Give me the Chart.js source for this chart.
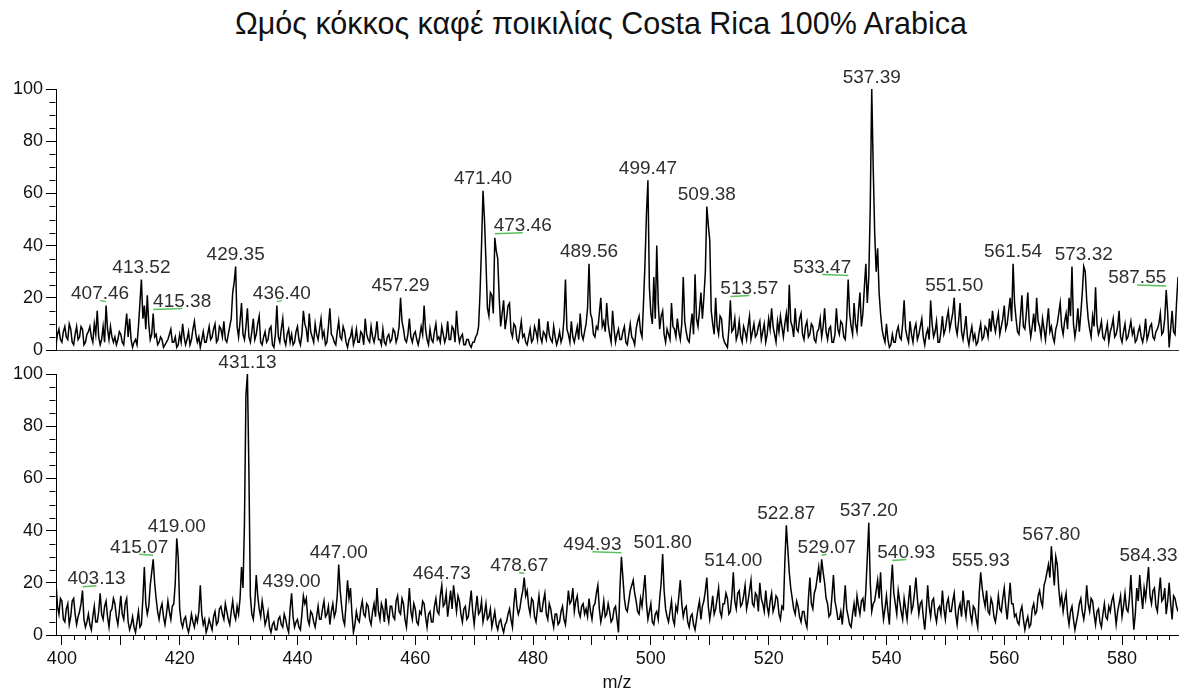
<!DOCTYPE html>
<html>
<head>
<meta charset="utf-8">
<title>Ωμός κόκκος καφέ ποικιλίας Costa Rica 100% Arabica</title>
<script src="https://cdn.jsdelivr.net/npm/chart.js@4.4.1/dist/chart.umd.min.js"></script>
<style>
  body { margin: 0; background: #fff; }
  #wrap { position: relative; width: 1183px; height: 695px; }
  #title {
    position: absolute; top: 8px; left: 0; width: 1202px; text-align: center;
    font: 30.5px "Liberation Sans", Arial, sans-serif; line-height: 30px; color: #111;
  }
  canvas { position: absolute; left: 0; }
  #top-chart { top: 0; z-index: 2; }
  #bottom-chart { top: 345px; z-index: 1; }
</style>
</head>
<body>
<div id="wrap">
  <div id="title">Ωμός κόκκος καφέ ποικιλίας Costa Rica 100% Arabica</div>
  <canvas id="bottom-chart" width="1183" height="350"></canvas>
  <canvas id="top-chart" width="1183" height="362"></canvas>
</div>
<script>
// m/z grid: one reading every 0.25 from 399.00 to 589.50
const mzStart = 399;
const mzStep = 0.25;

// relative intensity (%) of the upper spectrum, one row = 10 m/z
const topIntensity = [
  2,6, 8,4, 3,7, 9,5, 4,10, 8,3, 2,6, 9,4, 5,9, 8,2, 3,6, 7,9, 5,3, 10,6, 15,5, 2,4, 9,3, 17,8, 4,9, 5,3,
  5,2, 4,7, 6,3, 2,8, 14,5, 12,4, 1,3, 4,2, 9,18, 27,12, 17,8, 21,10, 4,6, 14,5, 6,2, 3,5, 4,1, 2,3, 4,6, 8,3,
  3,5, 1,2, 6,3, 10,5, 2,4, 7,2, 4,8, 11,6, 3,5, 1,4, 7,3, 3,6, 9,4, 5,8, 10,3, 4,9, 8,5, 11,4, 3,6, 9,12,
  22,26, 32,9, 5,11, 18,6, 4,9, 16,5, 3,7, 12,4, 6,10, 13,3, 2,5, 7,3, 4,8, 9,2, 1,6, 17,5, 3,8, 12,4, 2,6, 8,3,
  6,2, 3,7, 9,4, 2,6, 15,10, 8,3, 14,7, 5,3, 10,6, 4,8, 12,5, 7,2, 3,9, 16,6, 5,3, 2,7, 11,5, 4,9, 7,3, 1,4,
  5,8, 2,4, 8,3, 3,7, 6,2, 12,6, 4,3, 9,5, 3,6, 11,4, 4,2, 8,3, 2,5, 6,3, 4,8, 7,3, 5,9, 20,11, 8,4, 3,6,
  12,5, 3,6, 7,4, 2,5, 9,6, 17,8, 4,2, 8,4, 3,7, 10,4, 5,3, 9,6, 3,5, 11,4, 4,9, 8,3, 15,7, 3,5, 6,2, 2,4,
  4,2, 1,3, 3,5, 6,9, 22,40, 61,50, 34,16, 13,22, 21,14, 43,38, 35,20, 9,14, 19,8, 12,17, 18,7, 5,10, 9,4, 3,7, 11,5, 6,3,
  2,5, 8,3, 4,9, 7,4, 12,5, 3,7, 6,4, 11,6, 4,3, 9,5, 2,4, 7,3, 5,12, 27,8, 6,3, 11,5, 3,6, 9,4, 14,6, 4,7,
  10,16, 33,14, 12,6, 5,9, 8,14, 20,9, 11,7, 18,10, 6,3, 15,8, 3,6, 8,4, 4,7, 9,3, 2,6, 10,5, 4,2, 8,11, 13,7, 5,18,
  33,52, 65,24, 14,10, 28,12, 40,18, 8,13, 15,6, 3,8, 6,4, 18,9, 8,5, 12,7, 4,10, 28,11, 7,4, 3,9, 14,6, 29,12, 9,15, 22,12,
  20,30, 55,48, 42,15, 10,6, 20,9, 6,13, 12,5, 3,2, 1,8, 19,7, 8,12, 4,6, 11,5, 3,9, 7,4, 9,13, 4,7, 10,5, 6,9, 11,4,
  7,10, 3,6, 12,8, 16,9, 6,3, 11,7, 13,9, 5,10, 14,7, 25,11, 9,5, 16,8, 7,12, 14,6, 4,9, 11,5, 6,10, 9,4, 3,7, 8,12,
  5,9, 16,7, 4,8, 9,3, 3,6, 16,8, 6,11, 10,5, 4,12, 27,14, 9,6, 18,10, 7,15, 22,9, 14,24, 33,18, 28,55, 100,70, 45,30, 39,22,
  14,8, 5,3, 10,4, 1,2, 6,3, 3,7, 9,5, 4,10, 19,8, 5,3, 11,6, 3,8, 10,4, 6,9, 12,5, 2,6, 8,4, 19,10, 5,7, 11,3,
  3,7, 13,6, 8,12, 15,8, 11,14, 20,9, 6,11, 18,7, 4,8, 13,5, 2,6, 9,4, 6,2, 3,7, 10,4, 5,9, 8,5, 12,7, 15,10, 7,11,
  14,6, 9,12, 17,8, 10,15, 20,11, 33,18, 12,7, 6,13, 21,9, 8,14, 22,10, 5,9, 14,7, 20,11, 9,5, 12,8, 4,10, 16,7, 9,5, 3,8,
  10,14, 18,9, 6,11, 14,8, 20,13, 32,10, 5,9, 16,7, 14,22, 32,30, 19,12, 8,5, 13,9, 24,10, 6,8, 11,5, 4,7, 10,3, 7,9, 12,5,
  6,9, 15,5, 3,7, 10,4, 5,8, 11,6, 8,3, 4,7, 9,5, 3,6, 12,4, 6,9, 10,5, 4,7, 8,10, 14,6, 7,12, 23,14, 1,8, 15,7,
  6, 18, 28
];

// relative intensity (%) of the lower spectrum, one row = 10 m/z
const bottomIntensity = [
  20,11, 8,14, 13,6, 5,10, 12,4, 7,13, 14,8, 4,7, 9,12, 17,6, 3,5, 8,4, 2,7, 11,5, 5,9, 16,8, 6,11, 13,7, 3,9, 10,14,
  12,7, 4,9, 15,8, 6,12, 14,5, 2,4, 7,3, 1,5, 9,3, 4,14, 26,12, 8,11, 19,24, 29,20, 14,9, 6,10, 12,7, 4,8, 13,9, 6,11,
  12,20, 37,30, 10,5, 3,6, 7,3, 1,4, 8,5, 3,7, 5,9, 19,8, 4,6, 1,3, 6,4, 2,7, 9,4, 5,10, 11,8, 6,12, 9,6, 4,9,
  13,8, 6,11, 8,14, 26,18, 43,92, 100,63, 15,8, 6,12, 23,15, 10,7, 13,9, 4,6, 9,3, 1,4, 5,2, 2,6, 7,4, 3,8, 6,3, 1,10,
  16,7, 3,5, 6,3, 2,8, 15,12, 14,6, 4,9, 8,5, 3,7, 11,6, 6,10, 13,7, 8,11, 4,9, 12,7, 9,15, 27,17, 11,6, 4,12, 21,14,
  18,8, 1,4, 9,6, 5,10, 13,8, 7,12, 11,6, 4,9, 12,7, 18,9, 6,12, 10,5, 14,8, 5,11, 11,7, 6,13, 15,9, 8,14, 12,6, 3,10,
  18,9, 6,12, 10,5, 4,9, 8,13, 12,7, 3,8, 9,5, 5,11, 14,9, 8,15, 19,11, 12,16, 7,12, 17,10, 19,14, 9,15, 13,8, 5,10, 11,6,
  7,12, 17,9, 4,10, 15,8, 9,13, 5,8, 12,6, 7,10, 3,6, 9,4, 2,5, 6,3, 1,4, 5,8, 10,6, 3,12, 18,11, 8,10, 14,17, 22,15,
  17,11, 8,14, 13,7, 5,10, 15,9, 9,13, 16,8, 6,12, 10,6, 3,8, 8,4, 5,9, 11,6, 4,10, 17,12, 13,18, 9,13, 15,9, 7,11, 12,8,
  10,7, 14,9, 6,11, 12,16, 19,10, 5,8, 13,7, 8,12, 9,5, 6,10, 11,6, 1,18, 30,22, 14,10, 9,13, 17,19, 21,16, 13,9, 8,14, 11,17,
  23,12, 6,9, 12,5, 4,8, 9,6, 14,20, 31,17, 10,7, 5,9, 13,6, 4,11, 9,15, 21,12, 7,10, 11,5, 3,7, 8,4, 2,6, 10,13, 6,11,
  13,17, 22,11, 6,10, 15,8, 10,14, 18,9, 7,12, 12,16, 14,8, 9,15, 24,13, 10,16, 17,11, 12,15, 19,10, 13,17, 21,12, 11,16, 15,9, 20,14,
  12,9, 17,11, 8,13, 16,9, 11,15, 14,8, 6,11, 10,28, 42,33, 24,18, 14,10, 8,13, 11,7, 5,9, 9,5, 3,14, 22,12, 10,16, 18,22, 26,20,
  29,24, 20,14, 12,7, 8,15, 23,13, 10,6, 6,9, 4,11, 19,10, 7,4, 3,8, 12,7, 15,11, 8,13, 14,9, 17,30, 43,20, 9,12, 13,17, 21,14,
  24,12, 6,10, 15,9, 4,18, 27,16, 12,8, 17,13, 9,6, 14,10, 6,13, 19,9, 11,16, 22,14, 8,12, 13,7, 2,9, 19,11, 7,13, 14,8, 5,10,
  11,8, 17,10, 6,12, 14,9, 9,13, 16,8, 4,10, 12,7, 17,11, 7,13, 13,8, 5,11, 10,6, 3,16, 24,18, 14,11, 17,9, 8,14, 12,7, 5,9,
  15,10, 9,14, 18,11, 6,13, 20,12, 12,7, 8,5, 4,9, 11,6, 2,5, 7,3, 4,10, 12,8, 9,15, 17,13, 11,19, 21,24, 27,22, 34,26, 19,30,
  27,18, 12,15, 9,13, 16,8, 4,9, 11,6, 2,5, 8,12, 14,9, 6,10, 19,12, 9,14, 13,8, 4,9, 10,5, 3,8, 12,7, 6,11, 9,13, 15,10,
  4,9, 12,15, 7,11, 16,10, 9,14, 23,12, 2,8, 18,13, 23,16, 10,18, 14,20, 26,15, 12,17, 18,11, 9,16, 22,13, 14,18, 8,13, 20,12, 6,15,
  14, 11, 9
];

// annotated peaks
const topPeaks = ['407.46', '413.52', '415.38', '429.35', '436.40', '457.29', '471.40', '473.46', '489.56',
  '499.47', '509.38', '513.57', '533.47', '537.39', '551.50', '561.54', '573.32', '587.55'];
const bottomPeaks = ['403.13', '415.07', '419.00', '431.13', '439.00', '447.00', '464.73', '478.67', '494.93',
  '501.80', '514.00', '522.87', '529.07', '537.20', '540.93', '555.93', '567.80', '584.33'];

// sideways shift of a label (px); shifted labels get a green leader to their peak
const topLabelShift = [-6, 0, 29, 0, 5, 0, 0, 28, 0, 0, 0, 19, -26, 0, 0, 0, 0, -29];
const bottomLabelShift = [14, -14, 0, 0, 0, 0, 0, -5, -29, 0, 0, 0, 5, 0, 14, 0, 0, 0];

const xTickLabels = [400, 420, 440, 460, 480, 500, 520, 540, 560, 580];
const yTickLabels = [0, 20, 40, 60, 80, 100];

const FONT = '"Liberation Sans", Arial, sans-serif';
Chart.defaults.font.family = FONT;

function toPoints(values) {
  return values.map((v, i) => ({ x: mzStart + i * mzStep, y: v }));
}

// minor ticks + peak labels
function spectrumDecor(peaks, shifts, xMinor) {
  return {
    id: 'spectrumDecor',
    afterDraw(chart) {
      const { ctx, chartArea, scales: { x, y } } = chart;
      const pts = chart.data.datasets[0].data;
      ctx.save();

      ctx.strokeStyle = '#000';
      ctx.lineWidth = 1;
      ctx.beginPath();
      const left = Math.round(chartArea.left) - 0.5;
      for (let v = 5; v < 100; v += 5) {
        if (v % 20 === 0) continue;
        const py = Math.round(y.getPixelForValue(v)) + 0.5;
        ctx.moveTo(left - 6, py);
        ctx.lineTo(left, py);
      }
      if (xMinor) {
        const bottom = Math.round(chartArea.bottom);
        for (let v = 400; v < 590; v += 2) {
          if (v % 10 === 0) continue;
          const px = Math.round(x.getPixelForValue(v)) + 0.5;
          ctx.moveTo(px, bottom);
          ctx.lineTo(px, bottom + 5);
        }
      }
      ctx.stroke();

      ctx.font = '19px ' + FONT;
      ctx.textAlign = 'center';
      ctx.textBaseline = 'alphabetic';
      peaks.forEach((label, i) => {
        const mz = parseFloat(label);
        let best = null;
        pts.forEach(p => {
          if (Math.abs(p.x - mz) <= 0.6 && (!best || p.y > best.y)) best = p;
        });
        const px = x.getPixelForValue(best.x);
        const py = y.getPixelForValue(best.y);
        const tx = px + shifts[i];
        if (shifts[i] !== 0) {
          ctx.strokeStyle = '#5cbf5c';
          ctx.lineWidth = 1.5;
          ctx.beginPath();
          ctx.moveTo(px, py - 4);
          ctx.lineTo(tx, py - 5);
          ctx.stroke();
        }
        ctx.fillStyle = '#2e2e2e';
        ctx.fillText(label, tx, py - 6.5);
      });
      ctx.restore();
    }
  };
}

function makeSpectrum(canvasId, values, peaks, shifts, isBottom) {
  return new Chart(document.getElementById(canvasId), {
    type: 'line',
    data: {
      datasets: [{
        data: toPoints(values),
        borderColor: '#000',
        borderWidth: 1.5,
        pointRadius: 0,
        tension: 0,
        fill: false
      }]
    },
    options: {
      responsive: false,
      animation: false,
      events: [],
      layout: { padding: { left: 0, right: 5, top: isBottom ? 29 : 89, bottom: 0 } },
      plugins: {
        legend: { display: false },
        tooltip: { enabled: false }
      },
      scales: {
        x: {
          type: 'linear',
          min: 399,
          max: 589.5,
          afterFit(scale) {
            scale.height = isBottom ? 60 : 12;
            scale.paddingLeft = 0;
            scale.paddingRight = 0;
          },
          border: { display: true, color: isBottom ? '#000' : '#333', width: 1 },
          grid: { display: isBottom, drawOnChartArea: false, drawTicks: true, tickLength: 10, color: '#000' },
          ticks: {
            display: isBottom,
            stepSize: 10,
            includeBounds: false,
            autoSkip: false,
            maxRotation: 0,
            padding: 3,
            color: '#111',
            font: { size: 18 },
            callback: v => xTickLabels.includes(v) ? String(v) : ''
          },
          title: {
            display: isBottom,
            text: 'm/z',
            color: '#111',
            font: { size: 18 },
            padding: { top: 0, bottom: 1 }
          }
        },
        y: {
          min: 0,
          max: 100,
          afterFit(scale) {
            scale.width = 56;
            scale.paddingTop = 0;
            scale.paddingBottom = 0;
          },
          afterBuildTicks(scale) {
            scale.ticks = yTickLabels.map(v => ({ value: v }));
          },
          border: { display: true, color: '#000', width: 1 },
          grid: { drawOnChartArea: false, drawTicks: true, tickLength: 10, color: '#000' },
          ticks: { padding: 3, color: '#111', font: { size: 18 } }
        }
      }
    },
    plugins: [spectrumDecor(peaks, shifts, isBottom)]
  });
}

makeSpectrum('top-chart', topIntensity, topPeaks, topLabelShift, false);
makeSpectrum('bottom-chart', bottomIntensity, bottomPeaks, bottomLabelShift, true);
</script>
</body>
</html>
